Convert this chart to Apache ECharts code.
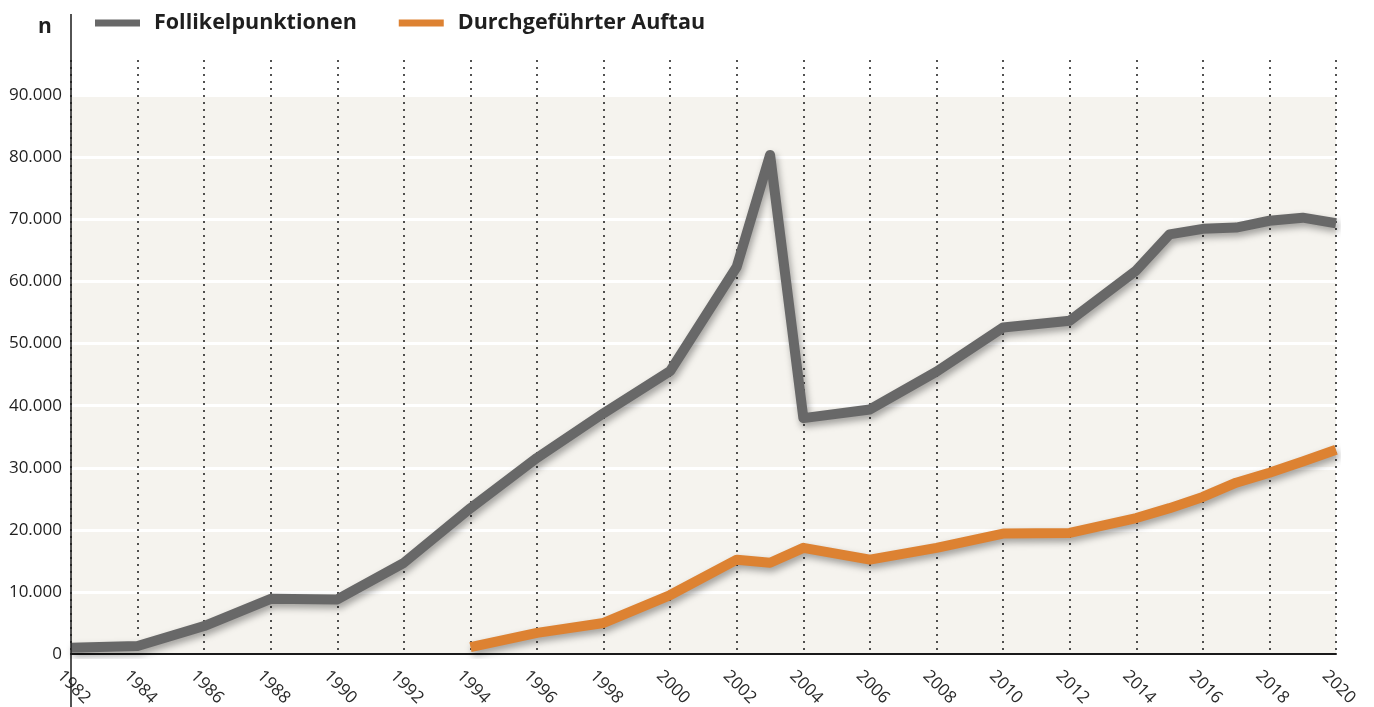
<!DOCTYPE html>
<html lang="de" style="height: 100%;margin: 0;background-color: #ffffff;">
<head>
    <meta charset="UTF-8">
    <title>chart</title>
</head>
<body style="height: 100%;margin: 0;background-color: #ffffff;">
<div id="chart" style="width: 1374px;height: 707px;margin: 0;"></div>
<script src="https://cdn.jsdelivr.net/npm/echarts@6/dist/echarts.min.js"></script>
<script>
    var legendNames = ["Follikelpunktionen", "Durchgeführter Auftau"];
    var yearsPunktion = [1982, 1984, 1986, 1988, 1990, 1992, 1994, 1996, 1998, 2000, 2002, 2003, 2004,
        2006, 2008, 2010, 2012, 2014, 2015, 2016, 2017, 2018, 2019, 2020];
    var valuesPunktion = [1000, 1300, 4500, 8900, 8800, 14700, 23500, 31600, 38800, 45600, 62400, 80400, 38000,
        39400, 45500, 52600, 53700, 61800, 67600, 68500, 68700, 69800, 70300, 69400];
    var yearsAuftau = [1994, 1996, 1998, 2000, 2002, 2003, 2004, 2006, 2008, 2010, 2012, 2014, 2015,
        2016, 2017, 2018, 2019, 2020];
    var valuesAuftau = [1100, 3400, 5000, 9500, 15200, 14700, 17100, 15200, 17100, 19400, 19500, 21900, 23500,
        25300, 27600, 29200, 31000, 32900];

    var chartContainer = document.getElementById("chart");
    var myChart = echarts.init(chartContainer, null, {renderer: 'canvas'});

    function pairs(xs, ys) {
        var out = [];
        for (var i = 0; i < xs.length; i++) {
            out.push([xs[i], ys[i]]);
        }
        return out;
    }

    function germanNumber(v) {
        return String(v).replace(/\B(?=(\d{3})+(?!\d))/g, ".");
    }

    var beige = '#f5f3ee';
    var areaColors = [beige, beige, beige, beige, beige, beige, beige, beige, beige, '#ffffff'];

    function lineSeries(name, color, data) {
        return {
            name: name,
            type: 'line',
            data: data,
            symbol: 'none',
            z: 5,
            color: color,
            lineStyle: {
                width: 10,
                color: color,
                join: 'round',
                shadowColor: 'rgba(0,0,0,0.35)',
                shadowBlur: 7,
                shadowOffsetX: 2,
                shadowOffsetY: 4
            },
            itemStyle: {color: color}
        };
    }

    var option = {
        backgroundColor: '#ffffff',
        animation: false,
        textStyle: {fontFamily: 'Open Sans'},
        title: {
            text: 'n',
            left: 38,
            top: 17,
            padding: 0,
            textStyle: {fontSize: 21, fontWeight: 'bold', color: '#1f1f1f', fontFamily: 'Open Sans'}
        },
        legend: {
            data: legendNames,
            left: 95,
            top: 12,
            padding: 0,
            icon: 'rect',
            itemWidth: 45,
            itemHeight: 7,
            itemGap: 42,
            textStyle: {
                fontSize: 21.5,
                fontWeight: 'bold',
                color: '#1f1f1f',
                fontFamily: 'Open Sans',
                padding: [0, 0, 0, 9]
            }
        },
        grid: {
            left: 71,
            right: 38,
            top: 60,
            bottom: 53,
            containLabel: false,
            outerBoundsMode: 'none'
        },
        xAxis: {
            type: 'value',
            min: 1982,
            max: 2020,
            interval: 2,
            z: 1,
            axisLine: {show: true, lineStyle: {color: '#1a1a1a', width: 2}},
            axisTick: {show: false},
            axisLabel: {
                rotate: -45,
                margin: 0,
                fontSize: 17,
                color: '#2a2a2a',
                fontFamily: 'Open Sans',
                verticalAlign: 'top',
                padding: [13, 0, 0, 6],
                formatter: function (v) {
                    return String(v);
                }
            },
            splitLine: {
                show: true,
                lineStyle: {color: '#1a1a1a', width: 1.5, type: [2, 5]}
            }
        },
        yAxis: {
            type: 'value',
            min: 0,
            max: 95700,
            interval: 10000,
            z: 0,
            axisLine: {show: false},
            axisTick: {show: false},
            axisLabel: {
                margin: 9,
                fontSize: 17,
                color: '#1f1f1f',
                fontFamily: 'Open Sans',
                formatter: function (v) {
                    return v % 10000 === 0 ? germanNumber(v) : '';
                }
            },
            splitLine: {
                show: true,
                lineStyle: {color: '#ffffff', width: 3}
            },
            splitArea: {
                show: true,
                areaStyle: {color: areaColors}
            }
        },
        graphic: [{
            type: 'line',
            z: 10,
            shape: {x1: 71, y1: 14, x2: 71, y2: 707},
            style: {stroke: '#1a1a1a', lineWidth: 1.5}
        }],
        series: [
            lineSeries(legendNames[0], '#686868', pairs(yearsPunktion, valuesPunktion)),
            lineSeries(legendNames[1], '#dd8232', pairs(yearsAuftau, valuesAuftau))
        ]
    };
    myChart.setOption(option, true);
</script>
</body>
</html>
